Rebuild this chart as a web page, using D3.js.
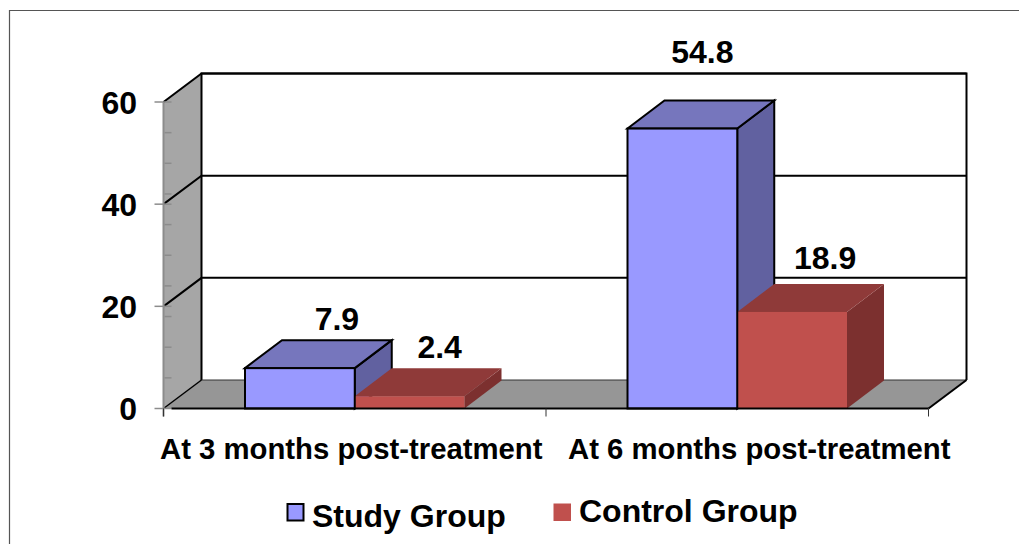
<!DOCTYPE html>
<html><head><meta charset="utf-8">
<script src="https://cdn.jsdelivr.net/npm/d3@7"></script>
<style>html,body{margin:0;padding:0;background:#fff}svg{display:block}text{font-family:"Liberation Sans",Arial,sans-serif;font-weight:bold;fill:#000}</style>
</head><body><svg id="c" width="1019" height="544"></svg>
<script>
const categories = ["At 3 months post-treatment", "At 6 months post-treatment"];
const seriesNames = ["Study Group", "Control Group"];
const studyValues = [7.9, 54.8];
const controlValues = [2.4, 18.9];
const tickValues = [0, 20, 40, 60];
const minorTicks = [6,12,18,24,30,36,42,48,54];
const colors = {
  "Study Group": {front:"#9999ff", top:"#7676bd", side:"#6161a0", stroke:"#000"},
  "Control Group": {front:"#c0504d", top:"#8f3a39", side:"#7c302f", stroke:"none"}
};
const svg = d3.select("#c");
const dx = 38, dy = -28.5, barDx = 37, barDy = -28;
const y = d3.scaleLinear().domain([0,60]).range([408.5,102]);
const x0 = d3.scaleBand().domain(categories).range([163.5,928.5]);
const x1 = d3.scaleBand().domain(seriesNames).range([81.5,301]);
const poly = pts => pts.map(p=>p.join(",")).join(" ");
const L = x0.range()[0], R = x0.range()[1], Y0 = y(0), Ytop = y(60);

// outer frame (open on the right and bottom, as cropped in the source)
svg.append("path").attr("d","M9.5,544V10.5H1019").attr("fill","none").attr("stroke","#555").attr("stroke-width",1.2);

// side wall and floor
svg.append("polygon").attr("points",poly([[L,Y0],[L+dx,Y0+dy],[L+dx,Ytop+dy],[L,Ytop]])).attr("fill","#a6a6a6");
svg.append("polygon").attr("points",poly([[L,Y0],[L+dx,Y0+dy],[R+dx,Y0+dy],[R,Y0]])).attr("fill","#969696");

// back wall & gridlines
svg.append("rect").attr("x",L+dx).attr("y",Ytop+dy).attr("width",R-L).attr("height",Y0-Ytop).attr("fill","#fff");
svg.append("path").attr("d",`M${L+dx},${Y0+dy}V${Ytop+dy}H${R+dx}V${Y0+dy}`).attr("fill","none").attr("stroke","#000").attr("stroke-width",2);
svg.append("path").attr("d",`M${L+dx},${Y0+dy}H${R+dx}`).attr("fill","none").attr("stroke","#333").attr("stroke-width",1);
svg.append("path").attr("d",`M${R+dx},${Y0+dy}L${R},${Y0}`).attr("fill","none").attr("stroke","#000").attr("stroke-width",2);
tickValues.filter(t=>t>0).forEach(t=>{
  svg.append("path").attr("d",`M${L},${y(t)}L${L+dx},${y(t)+dy}H${R+dx}`).attr("fill","none").attr("stroke","#000").attr("stroke-width",2);
});
svg.append("path").attr("d",`M${L},${Y0}L${L+dx},${Y0+dy}`).attr("stroke","#000").attr("stroke-width",1.5).attr("fill","none");

// axis ticks
svg.append("line").attr("x1",L).attr("x2",L).attr("y1",Ytop).attr("y2",Y0+8).attr("stroke","#8c8c8c").attr("stroke-width",2);
tickValues.forEach(t=>svg.append("line").attr("x1",L-9).attr("x2",L+8).attr("y1",y(t)).attr("y2",y(t)).attr("stroke","#8c8c8c").attr("stroke-width",1.5));
minorTicks.forEach(t=>svg.append("line").attr("x1",L+1).attr("x2",L+8).attr("y1",y(t)).attr("y2",y(t)).attr("stroke","#8c8c8c").attr("stroke-width",1.5));
tickValues.forEach(t=>svg.append("text").attr("x",137).attr("y",y(t)+11.5).attr("text-anchor","end").attr("font-size",32).text(t));

// bars
const vals = {"Study Group":studyValues,"Control Group":controlValues};
const barGeom = (cat,i,name)=>{
  const a = x0(cat) + x1(name), w = x1.bandwidth();
  return {a, w, b:a+w, t:y(vals[name][i]), c:colors[name], sw:colors[name].stroke==="none"?0:2};
};
const drawBack = (cat,i,name)=>{
  const {b,a,t,c,sw} = barGeom(cat,i,name);
  svg.append("polygon").attr("points",poly([[b,t],[b+barDx,t+barDy],[b+barDx,Y0+barDy],[b,Y0]])).attr("fill",c.side).attr("stroke",c.stroke).attr("stroke-width",sw);
  svg.append("polygon").attr("points",poly([[a,t],[a+barDx,t+barDy],[b+barDx,t+barDy],[b,t]])).attr("fill",c.top).attr("stroke",c.stroke).attr("stroke-width",sw);
};
const drawFront = (cat,i,name)=>{
  const {a,w,t,c,sw} = barGeom(cat,i,name);
  svg.append("rect").attr("x",a).attr("y",t).attr("width",w).attr("height",Y0-t).attr("fill",c.front).attr("stroke",c.stroke).attr("stroke-width",sw);
};
categories.forEach((cat,i)=>{
  drawBack(cat,i,"Study Group");
  drawBack(cat,i,"Control Group");
  drawFront(cat,i,"Control Group");
  drawFront(cat,i,"Study Group");
});
svg.append("line").attr("x1",L+8).attr("x2",R).attr("y1",Y0).attr("y2",Y0).attr("stroke","#000").attr("stroke-width",2);

// x axis ticks
[L, (L+R)/2, R].forEach(px=>svg.append("line").attr("x1",px).attr("x2",px).attr("y1",Y0).attr("y2",Y0+8).attr("stroke","#333").attr("stroke-width",1));

// value labels: offsets from each bar's top
const labelNudge = {"Study Group":[[-1,-38],[-18,-66]], "Control Group":[[-8,-38],[-5,-43]]};
seriesNames.forEach(name=>vals[name].forEach((v,i)=>{
  const g = barGeom(categories[i],i,name), n = labelNudge[name][i];
  svg.append("text").attr("x",g.a+g.w/2+dx+n[0]).attr("y",g.t+n[1]).attr("text-anchor","middle").attr("font-size",32).text(v.toFixed(1));
}));

// category labels
const catNudge = [-3.5, 22];
categories.forEach((c,i)=>svg.append("text").attr("x",x0(c)+x0.bandwidth()/2+catNudge[i]).attr("y",459).attr("text-anchor","middle").attr("font-size",29.3).text(c));

// legend
svg.append("rect").attr("x",287.5).attr("y",504).attr("width",16).attr("height",16.5).attr("fill","#9999ff").attr("stroke","#000").attr("stroke-width",2);
svg.append("text").attr("x",312).attr("y",527).attr("font-size",32).text(seriesNames[0]);
svg.append("rect").attr("x",553.5).attr("y",503.5).attr("width",17.5).attr("height",17.5).attr("fill","#c0504d");
svg.append("text").attr("x",579).attr("y",522).attr("font-size",32).text(seriesNames[1]);
</script></body></html>
